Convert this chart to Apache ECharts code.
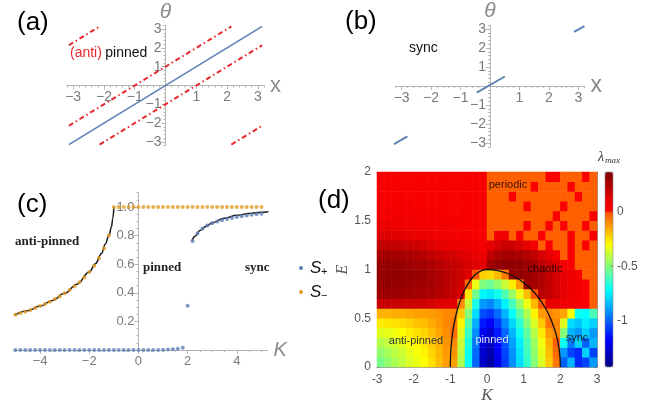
<!DOCTYPE html>
<html><head><meta charset="utf-8">
<script src="https://cdn.jsdelivr.net/npm/echarts@6/dist/echarts.min.js"></script>
<style>html,body{margin:0;padding:0;background:#fff;}#c{width:665px;height:409px;}</style>
</head><body><div id="c"></div>
<script>
// ================= DATA =================
// (a) trajectories theta vs x
const aBlueLine = [[-3.14,-3.14],[3.14,3.14]];
const aRedSegments = [
  [[-3.14,-2.14],[2.14,3.14]],
  [[2.14,-3.14],[3.14,-2.14]],
  [[-2.14,-3.14],[3.14,2.14]],
  [[-3.14,2.14],[-2.14,3.14]]
];
// (b)
const bBlueSegments = [
  [[-3.3,-3.1],[-2.8,-2.65]],
  [[-0.45,-0.35],[0.5,0.5]],
  [[2.85,2.85],[3.2,3.15]]
];
const abTicks = [-3,-2,-1,1,2,3];

// (c) order parameters vs K
const cK = [-5,-4.8,-4.6,-4.4,-4.2,-4,-3.8,-3.6,-3.4,-3.2,-3,-2.8,-2.6,-2.4,-2.2,-2,-1.8,-1.6,-1.4,-1.2,-1,-0.8,-0.6,-0.4,-0.2,0,0.2,0.4,0.6,0.8,1,1.2,1.4,1.6,1.8,2,2.2,2.4,2.6,2.8,3,3.2,3.4,3.6,3.8,4,4.2,4.4,4.6,4.8,5];
const cSplus = [0,0,0,0,0,0,0,0,0,0,0,0,0,0,0,0,0,0,0,0,0,0,0,0,0,0,0,0,0,0,
  0.002,0.003,0.005,0.008,0.015,0.31,0.762,0.815,0.848,0.87,0.887,0.899,0.908,0.916,0.923,0.93,0.935,0.94,0.945,0.949,0.953];
const cSminus = [0.246,0.257,0.268,0.280,0.293,0.307,0.322,0.338,0.356,0.375,0.396,0.419,0.445,0.474,0.507,0.545,0.590,0.643,0.710,0.800,
  1,1,1,1,1,1,1,1,1,1,1,1,1,1,1,1,1,1,1,1,1,1,1,1,1,1,1,1,1,1,1];
const cCurveAnti = [[-5.05,0.243],[-4.5,0.274],[-4,0.307],[-3.5,0.347],[-3,0.396],[-2.5,0.46],[-2,0.545],[-1.75,0.603],[-1.5,0.675],[-1.35,0.74],[-1.2,0.8],[-1.1,0.86],[-1.04,0.92],[-1.0,1.0]];
const cCurveSync = [[2.17,0.76],[2.3,0.795],[2.5,0.835],[2.75,0.866],[3,0.89],[3.5,0.922],[4,0.942],[4.5,0.955],[5,0.963],[5.28,0.967]];
const cXTicks = [-4,-2,0,2,4];
const cYTicks = [0.2,0.4,0.6,0.8,1.0];

// (d) lambda_max map
const dK = [-2.9,-2.7,-2.5,-2.3,-2.1,-1.9,-1.7,-1.5,-1.3,-1.1,-0.9,-0.7,-0.5,-0.3,-0.1,0.1,0.3,0.5,0.7,0.9,1.1,1.3,1.5,1.7,1.9,2.1,2.3,2.5,2.7,2.9];
const dE = [0.05,0.15,0.25,0.35,0.45,0.55,0.65,0.75,0.85,0.95,1.05,1.15,1.25,1.35,1.45,1.55,1.65,1.75,1.85,1.95];
const dLambda = [
 [-0.52,-0.48,-0.44,-0.40,-0.36,-0.33,-0.30,-0.25,-0.19,-0.14, -0.14,-0.43,-0.71,-0.99,-1.28, -1.35,-1.21,-1.07,-0.92,-0.78, -0.64,-0.50,-0.36,-0.21,-0.07, -1.00,-0.85,-1.10,-1.05,-0.90],
 [-0.48,-0.45,-0.41,-0.38,-0.34,-0.31,-0.28,-0.23,-0.18,-0.13, -0.12,-0.41,-0.70,-0.98,-1.26, -1.33,-1.19,-1.05,-0.91,-0.77, -0.62,-0.48,-0.34,-0.19,-0.05, -0.90,-1.05,-1.10,-0.80,-1.05],
 [-0.42,-0.40,-0.37,-0.34,-0.31,-0.29,-0.26,-0.21,-0.17,-0.12, -0.10,-0.39,-0.67,-0.96,-1.24, -1.31,-1.17,-1.03,-0.89,-0.75, -0.60,-0.46,-0.32,-0.17,-0.03, -0.70,-0.95,-0.80,-1.00,-0.85],
 [-0.35,-0.34,-0.32,-0.30,-0.27,-0.25,-0.23,-0.19,-0.15,-0.11, -0.05,-0.35,-0.63,-0.92,-1.20, -1.26,-1.13,-0.99,-0.85,-0.70, -0.56,-0.42,-0.27,-0.13,-0.10, -0.50,-0.85,-0.90,-0.80,-0.90],
 [-0.27,-0.26,-0.25,-0.24,-0.22,-0.20,-0.19,-0.16,-0.13,-0.10, -0.08,-0.29,-0.58,-0.86,-1.13, -1.18,-1.07,-0.93,-0.79,-0.65, -0.50,-0.36,-0.21,-0.06,-0.10, -0.35,-0.78,-0.82,-0.75,-0.80],
 [-0.17,-0.17,-0.16,-0.16,-0.15,-0.14,-0.14,-0.13,-0.12,-0.10, -0.10,-0.21,-0.50,-0.78,-1.03, -1.07,-0.98,-0.85,-0.71,-0.57, -0.43,-0.28,-0.13,-0.10,-0.12, -0.15,-0.30,-0.70,-0.72,-0.60],
 [0.18,0.18,0.18,0.18,0.17,0.17,0.16,0.15,0.13,0.12, 0.12,-0.10,-0.40,-0.68,-0.90, -0.93,-0.85,-0.74,-0.61,-0.47, -0.33,-0.18,-0.02,0.10,0.08, 0.06,0.05,0.04,0.03,-0.03],
 [0.28,0.29,0.29,0.28,0.28,0.27,0.26,0.25,0.23,0.21, 0.18,0.14,-0.26,-0.53,-0.73, -0.76,-0.69,-0.59,-0.47,-0.33, -0.19,-0.02,0.22,0.20,0.15, 0.10,0.06,0.04,0.02,-0.03],
 [0.30,0.31,0.31,0.30,0.30,0.29,0.28,0.27,0.25,0.22, 0.20,0.16,-0.05,-0.33,-0.51, -0.54,-0.48,-0.39,-0.27,-0.13, 0.28,0.27,0.24,0.20,0.15, 0.10,0.07,0.05,0.02,-0.03],
 [0.31,0.32,0.32,0.31,0.31,0.30,0.29,0.27,0.25,0.22, 0.20,0.17,0.12,-0.02,-0.22, -0.24,-0.18,-0.08,0.30,0.31, 0.30,0.28,0.25,0.20,0.15, 0.10,0.06,0.03,-0.03,-0.03],
 [0.30,0.31,0.31,0.30,0.29,0.28,0.27,0.25,0.23,0.21, 0.19,0.17,0.14,0.12,0.10, 0.28,0.31,0.32,0.32,0.31, 0.29,0.26,0.22,0.17,0.12, 0.06,0.03,-0.03,-0.03,-0.03],
 [0.26,0.27,0.27,0.26,0.25,0.24,0.22,0.20,0.18,0.16, 0.15,0.13,0.11,0.09,0.07, 0.20,0.25,0.27,0.27,0.26, 0.24,0.20,0.15,0.10,0.04, -0.03,0.02,-0.03,-0.03,-0.03],
 [0.20,0.20,0.20,0.19,0.18,0.17,0.15,0.13,0.11,0.09, 0.08,0.07,0.06,0.05,0.04, 0.10,0.15,0.18,0.17,0.14, 0.10,0.05,-0.03,0.02,-0.03, -0.03,0.02,-0.03,0.02,-0.03],
 [0.13,0.13,0.12,0.11,0.10,0.09,0.08,0.07,0.06,0.05, 0.05,0.04,0.04,0.03,0.03, -0.03,0.05,0.06,-0.03,0.03, -0.03,-0.03,0.02,-0.03,-0.03, -0.03,0.02,-0.03,-0.03,0.02],
 [0.08,0.08,0.07,0.07,0.06,0.06,0.05,0.05,0.04,0.04, 0.04,0.03,0.03,0.03,0.03, -0.03,-0.03,-0.03,-0.03,-0.03, 0.02,-0.03,-0.03,0.02,-0.03, 0.02,-0.03,-0.03,0.02,-0.03],
 [0.05,0.05,0.05,0.05,0.04,0.04,0.04,0.04,0.04,0.03, 0.03,0.03,0.03,0.03,0.03, -0.03,-0.03,-0.03,-0.03,-0.03, -0.03,-0.03,-0.03,-0.03,0.02, -0.03,-0.03,-0.03,-0.03,0.02],
 [0.04,0.04,0.04,0.04,0.04,0.03,0.03,0.03,0.03,0.03, 0.03,0.03,0.03,0.03,0.03, -0.03,-0.03,-0.03,-0.03,-0.03, 0.02,-0.03,-0.03,-0.03,-0.03, 0.02,-0.03,-0.03,-0.03,-0.03],
 [0.03,0.03,0.03,0.03,0.03,0.03,0.03,0.03,0.03,0.03, 0.03,0.03,0.03,0.03,0.03, -0.03,-0.03,-0.03,0.02,-0.03, -0.03,-0.03,-0.03,-0.03,-0.03, -0.03,-0.03,0.02,-0.03,-0.03],
 [0.03,0.03,0.03,0.03,0.03,0.03,0.03,0.03,0.03,0.03, 0.03,0.03,0.03,0.03,0.03, -0.03,-0.03,-0.03,-0.03,-0.03, -0.03,0.02,-0.03,-0.03,-0.03, -0.03,0.02,-0.03,-0.03,-0.03],
 [0.03,0.03,0.03,0.03,0.03,0.03,0.03,0.03,0.03,0.03, 0.03,0.03,0.03,0.03,0.03, -0.03,-0.03,-0.03,-0.03,-0.03, -0.03,-0.03,-0.03,0.02,0.02, -0.03,-0.03,-0.03,0.02,-0.03]
];
const dBoundary = [[-1,0],[-0.995,0.1],[-0.98,0.2],[-0.954,0.3],[-0.917,0.4],[-0.866,0.5],[-0.8,0.6],[-0.714,0.7],[-0.6,0.8],[-0.436,0.9],[-0.3,0.954],[-0.15,0.989],[0,1],[0.3,0.989],[0.6,0.954],[0.9,0.893],[1.2,0.8],[1.4,0.714],[1.6,0.6],[1.73,0.5],[1.83,0.4],[1.91,0.3],[1.96,0.2],[1.99,0.1],[2,0]];
const cbTicks = [0,-0.5,-1];
const cbMin = -1.42, cbMax = 0.36;

// ================= STYLE HELPERS =================
function rangeSteps(a,b,s){const r=[];for(let k=0;a+k*s<=b+1e-9;k++){r.push(+(a+k*s).toFixed(4));}return r;}
const isInt = v => Math.abs(v-Math.round(v))<1e-6;
const abMinor = rangeSteps(-3.2,3.2,0.2).filter(v=>!isInt(v));
const cXMinor = rangeSteps(-5,5,0.5).filter(v=>!isInt(v/2));
const cYMinor = rangeSteps(0.05,1.1,0.05).filter(v=>!isInt(v*5));
const minus = v => String(v).replace('-', '\u2212');
const gLine = '#b4b4b4', gLab = '#7a7a7a', gName = '#8c8c8c';
const SANS = '"Liberation Sans", Arial, Helvetica, sans-serif';
const SERIF = '"Liberation Serif", "Times New Roman", serif';

// axis crossing at the origin: placed with an offset from the grid edge
function mathAxis(dim, gridIndex, min, max, ticks, minor, opt) {
  const main = {
    gridIndex, type:'value', min, max, position: dim==='x'?'bottom':'left', offset: opt.offset||0,
    axisLine:{show:true,onZero:false,lineStyle:{color:gLine,width:1}},
    axisTick:{show:true,customValues:ticks,length:4,lineStyle:{color:gLine}},
    axisLabel:{show:true,customValues:opt.labels||ticks,formatter:opt.fmt||minus,color:gLab,fontSize:opt.fs||14,margin:opt.margin||5,fontFamily:SANS},
    splitLine:{show:false},
    name:opt.name||'', nameLocation:'end', nameGap:opt.nameGap||6,
    nameTextStyle:opt.nameStyle||{}
  };
  const minorAx = {
    gridIndex, type:'value', min, max, position: dim==='x'?'bottom':'left', offset: opt.offset||0,
    axisLine:{show:false,onZero:false},
    axisTick:{show:true,customValues:minor,length:2,lineStyle:{color:gLine}},
    axisLabel:{show:false}, splitLine:{show:false}
  };
  return [main, minorAx];
}

// colormap (jet below 0, red->dark red above 0)
const negStops = [[-1.42,[0,0,128]],[-1.17,[0,0,255]],[-0.72,[0,255,255]],[-0.30,[255,255,0]],[0,[255,77,0]]];
const posStops = [[0,[255,0,0]],[0.12,[225,0,0]],[0.36,[128,0,0]]];
function interp(stops,v){
  if (v<=stops[0][0]) return stops[0][1];
  for (let i=1;i<stops.length;i++){
    if (v<=stops[i][0]){const a=stops[i-1],b=stops[i];const t=(v-a[0])/(b[0]-a[0]);
      return a[1].map((c,k)=>Math.round(c+(b[1][k]-c)*t));}
  }
  return stops[stops.length-1][1];
}
const cmap = [];
for (let k=0;k<=178;k++){const v=Math.round((cbMin+k*0.01)*1000)/1000;const c=v>=0?interp(posStops,v):interp(negStops,v);cmap.push('rgb('+c.join(',')+')');}

// ================= LAYOUT =================
const G = [
  {left:67,top:25.3,width:197,height:120.4},
  {left:395.6,top:25.2,width:188.8,height:121.6},
  {left:13,top:192.7,width:254.6,height:157.3},
  {left:377,top:172,width:220,height:195}
];
// offsets so that the axes cross at the origin
const offA = {x:-(G[0].height/2), y:-(G[0].width/2)};
const offB = {x:-(G[1].height/2), y:-(G[1].width/2)};
const offC = {x:0, y:-(G[2].width*5.1/10.35)};

const xA = mathAxis('x',0,-3.2,3.2,abTicks,abMinor,{offset:offA.x,name:'x',nameGap:6,nameStyle:{color:gName,fontSize:22,fontFamily:SANS,verticalAlign:'middle'}});
const yA = mathAxis('y',0,-3.2,3.2,abTicks,abMinor,{offset:offA.y,name:'\u03b8',nameGap:3,margin:4,nameStyle:{color:gName,fontSize:21,fontStyle:'italic',fontFamily:SANS}});
const xB = mathAxis('x',1,-3.2,3.2,abTicks,abMinor,{offset:offB.x,name:'x',nameGap:6,nameStyle:{color:gName,fontSize:23,fontFamily:SANS,verticalAlign:'middle'}});
const yB = mathAxis('y',1,-3.2,3.2,abTicks,abMinor,{offset:offB.y,name:'\u03b8',nameGap:3,margin:4,nameStyle:{color:gName,fontSize:21,fontStyle:'italic',fontFamily:SANS}});
const xC = mathAxis('x',2,-5.1,5.25,cXTicks,cXMinor,{offset:offC.x,fs:13,name:'K',nameGap:6,nameStyle:{color:gName,fontSize:20,fontStyle:'italic',fontFamily:SANS,verticalAlign:'middle'}});
const yC = mathAxis('y',2,0,1.1,cYTicks,cYMinor,{offset:offC.y,fs:13,margin:4,fmt:v=>Number(v).toFixed(1)});

const frameLine = {show:true,onZero:false,lineStyle:{color:'#9a9a9a',width:1}};
const dTick = {show:true,inside:true,length:3,lineStyle:{color:'#777'}};
const xAxes = [xA[0],xA[1],xB[0],xB[1],xC[0],xC[1],
  {gridIndex:3,type:'category',data:dK,show:false,position:'bottom'},
  {gridIndex:3,type:'value',min:-3,max:3,interval:1,position:'bottom',axisLine:frameLine,axisTick:dTick,
    axisLabel:{color:'#555',fontSize:12,margin:7,fontFamily:SANS},splitLine:{show:false},
    name:'K',nameLocation:'middle',nameGap:20,nameTextStyle:{fontFamily:SERIF,fontStyle:'italic',fontSize:17,color:'#555'}},
  {gridIndex:3,type:'value',min:-3,max:3,interval:1,position:'top',axisLine:frameLine,axisTick:dTick,axisLabel:{show:false},splitLine:{show:false}}
];
const yAxes = [yA[0],yA[1],yB[0],yB[1],yC[0],yC[1],
  {gridIndex:3,type:'category',data:dE,show:false,position:'left'},
  {gridIndex:3,type:'value',min:0,max:2,interval:0.5,position:'left',axisLine:frameLine,axisTick:dTick,
    axisLabel:{color:'#555',fontSize:12,margin:6,fontFamily:SANS},splitLine:{show:false},
    name:'E',nameLocation:'middle',nameGap:19,nameTextStyle:{fontFamily:SERIF,fontStyle:'italic',fontSize:16,color:'#555'}},
  {gridIndex:3,type:'value',min:0,max:2,interval:0.5,position:'right',axisLine:frameLine,axisTick:dTick,axisLabel:{show:false},splitLine:{show:false}}
];

const series = [];
const mBlue = '#5e81b5', mOrange = '#e19c24', mRed = '#e8262a';
series.push({type:'line',xAxisIndex:0,yAxisIndex:0,data:aBlueLine,showSymbol:false,lineStyle:{color:mBlue,width:1.6},z:3});
aRedSegments.forEach(seg=>series.push({type:'line',xAxisIndex:0,yAxisIndex:0,data:seg,showSymbol:false,clip:false,
  lineStyle:{color:mRed,width:2,type:[5,3,1.5,3]},z:3}));
bBlueSegments.forEach(seg=>series.push({type:'line',xAxisIndex:2,yAxisIndex:2,data:seg,showSymbol:false,clip:false,
  lineStyle:{color:mBlue,width:2},z:3}));
series.push({type:'line',xAxisIndex:4,yAxisIndex:4,data:cCurveAnti,showSymbol:false,smooth:0.4,smoothMonotone:'x',clip:false,lineStyle:{color:'#1a1a1a',width:1.5},z:3});
series.push({type:'line',xAxisIndex:4,yAxisIndex:4,data:cCurveSync,showSymbol:false,smooth:0.4,smoothMonotone:'x',clip:false,lineStyle:{color:'#1a1a1a',width:1.5},z:3});
series.push({type:'scatter',xAxisIndex:4,yAxisIndex:4,data:cK.map((k,i)=>[k,cSplus[i]]),symbolSize:4,itemStyle:{color:mBlue},z:4,clip:false});
series.push({type:'scatter',xAxisIndex:4,yAxisIndex:4,data:cK.map((k,i)=>[k,cSminus[i]]),symbolSize:4,itemStyle:{color:mOrange},z:4,clip:false});
const heatData = [];
dLambda.forEach((row,j)=>row.forEach((v,i)=>heatData.push([i,j,v])));
const heatIndex = series.length;
series.push({type:'heatmap',xAxisIndex:6,yAxisIndex:6,data:heatData,emphasis:{disabled:true},z:1});
series.push({type:'line',xAxisIndex:7,yAxisIndex:7,data:dBoundary,showSymbol:false,smooth:0.3,lineStyle:{color:'#111',width:1.3},z:5});

function T(x,y,text,style){return {type:'text',x,y,z:100,style:Object.assign({text,align:'left',verticalAlign:'middle',fill:'#000',font:'14px '+SANS},style||{})};}
const graphics = [
  T(17,23,'(a)',{font:'26px '+SANS}),
  T(345,22,'(b)',{font:'26px '+SANS}),
  T(17,205,'(c)',{font:'26px '+SANS}),
  T(318,201,'(d)',{font:'26px '+SANS}),
  {type:'text',x:70,y:53,z:100,style:{text:'{r|(anti)} {k|pinned}',verticalAlign:'middle',rich:{r:{fill:mRed,font:'14px '+SANS},k:{fill:'#111',font:'14px '+SANS}}}},
  T(409,48,'sync',{font:'14px '+SANS,fill:'#111'}),
  T(15,242,'anti-pinned',{font:'bold 13px '+SERIF,fill:'#222'}),
  T(143,268,'pinned',{font:'bold 13px '+SERIF,fill:'#222'}),
  T(245,268,'sync',{font:'bold 13px '+SERIF,fill:'#222'}),
  {type:'circle',x:301,y:268,z:100,shape:{r:2},style:{fill:mBlue}},
  {type:'circle',x:301,y:292,z:100,shape:{r:2},style:{fill:mOrange}},
  T(310,268,'S',{font:'italic 17px '+SANS,fill:'#111'}),
  T(321,272,'+',{font:'11px '+SANS,fill:'#111'}),
  T(310,292,'S',{font:'italic 17px '+SANS,fill:'#111'}),
  T(321,296,'\u2212',{font:'11px '+SANS,fill:'#111'}),
  T(508,185,'periodic',{font:'11px '+SANS,fill:'#3a1500',align:'center'}),
  T(545,269,'chaotic',{font:'11px '+SANS,fill:'#2a0000',align:'center'}),
  T(416,341,'anti-pinned',{font:'11px '+SANS,fill:'#333',align:'center'}),
  T(492,340,'pinned',{font:'11px '+SANS,fill:'#dde6ff',align:'center'}),
  T(577,338,'sync',{font:'11px '+SANS,fill:'#222',align:'center'}),
  T(598,157,'\u03bb',{font:'italic 14px '+SERIF,fill:'#333'}),
  T(605,161,'max',{font:'italic 9px '+SERIF,fill:'#333'}),
  {type:'rect',x:605,y:172,z:99,shape:{width:8,height:195},style:{fill:'none',stroke:'#888',lineWidth:0.6}}
];
cbTicks.forEach(v=>{
  const y = 172 + (cbMax - v)/(cbMax-cbMin)*195;
  graphics.push(T(617,y,String(v),{font:'12px '+SANS,fill:'#555'}));
  graphics.push({type:'line',z:100,shape:{x1:610,y1:y,x2:613,y2:y},style:{stroke:'#666',lineWidth:0.6}});
});

const chart = echarts.init(document.getElementById('c'),null,{renderer:'canvas'});
chart.setOption({
  animation:false,
  backgroundColor:'#fff',
  textStyle:{fontFamily:SANS},
  grid:G.map(g=>Object.assign({outerBoundsMode:'none',containLabel:false},g)),
  xAxis:xAxes, yAxis:yAxes, series,
  visualMap:{type:'continuous',seriesIndex:heatIndex,min:cbMin,max:cbMax,calculable:false,show:true,
    left:605,top:172,itemWidth:8,itemHeight:195,padding:0,inRange:{color:cmap},hoverLink:false},
  graphic:graphics
});
</script></body></html>
